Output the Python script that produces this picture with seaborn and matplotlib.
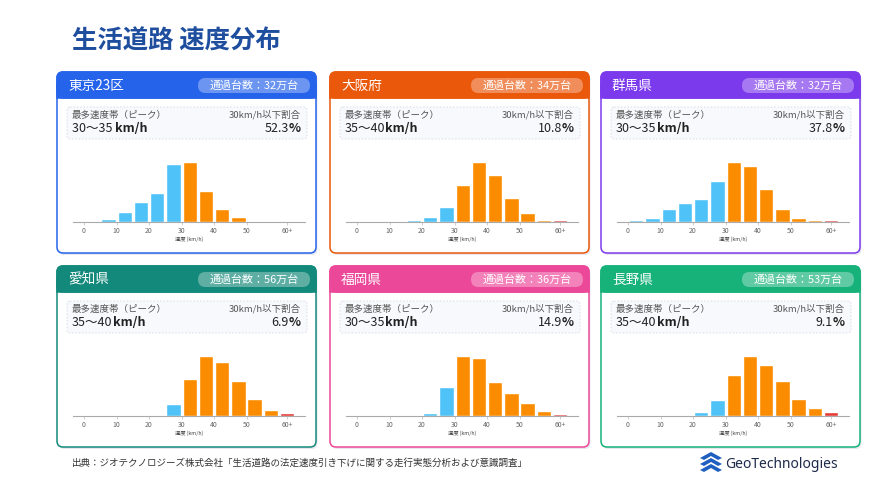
import numpy as np
import pandas as pd
import matplotlib
matplotlib.use("Agg")
import matplotlib.pyplot as plt
from matplotlib.patches import FancyBboxPatch, Rectangle, Polygon
import seaborn as sns

sns.set_theme(style="white")
plt.rcParams['font.family'] = ['Noto Sans CJK JP', 'DejaVu Sans']

# ---- data ----
speed_bins = ["0-5", "5-10", "10-15", "15-20", "20-25", "25-30", "30-35",
              "35-40", "40-45", "45-50", "50-55", "55-60", "60+"]
tick_labels = ["0", "10", "20", "30", "40", "50", "60+"]

regions = ["東京23区", "大阪府", "群馬県", "愛知県", "福岡県", "長野県"]
traffic = ["32万台", "34万台", "32万台", "56万台", "36万台", "53万台"]
peak_bands = ["30～35 ", "35～40", "30～35", "35～40", "30～35", "35～40"]
share_under_30 = ["52.3", "10.8", "37.8", "6.9", "14.9", "9.1"]

tokyo = [0.6, 1.4, 4.3, 8.5, 12.5, 25.0, 25.8, 13.2, 5.7, 2.3, 0.5, 0.3, 0.3]
osaka = [0.1, 0.1, 0.3, 0.8, 2.3, 7.3, 18.6, 29.9, 23.7, 12.1, 4.3, 1.0, 0.8]
gunma = [0.7, 1.6, 4.9, 6.9, 8.6, 15.1, 22.0, 20.5, 12.3, 4.6, 1.5, 0.7, 0.6]
aichi = [0.1, 0.1, 0.2, 0.4, 0.6, 5.5, 16.4, 26.7, 23.9, 15.8, 7.4, 2.7, 1.5]
fukuoka = [0.1, 0.1, 0.1, 0.2, 1.4, 13.0, 26.6, 25.6, 15.3, 10.3, 5.9, 2.1, 0.7]
nagano = [0.1, 0.0, 0.1, 0.5, 1.7, 6.7, 17.3, 25.5, 21.7, 14.7, 7.2, 3.5, 1.7]
shares = [tokyo, osaka, gunma, aichi, fukuoka, nagano]

# ---- styling ----
header_colors = ["#2563EB", "#EA580C", "#7C3AED", "#12897A", "#EC4899", "#16B27A"]
BLUE, ORANGE, RED = "#4FC3F7", "#FB8C00", "#E53935"
bin_colors = [BLUE] * 6 + [ORANGE] * 6 + [RED]

FW, FH = 891, 491
fig = plt.figure(figsize=(FW / 100, FH / 100), dpi=100)
fig.patch.set_facecolor("white")
bg = fig.add_axes([0, 0, 1, 1])
bg.set_xlim(0, FW)
bg.set_ylim(FH, 0)
bg.axis("off")

bg.text(72, 41, "生活道路 速度分布", fontsize=18.3, fontweight="bold",
        color="#1F4E9F", va="center", ha="left")

renderer = fig.canvas.get_renderer()
inv = bg.transData.inverted()


def right_edge(t):
    bb = t.get_window_extent(renderer=renderer)
    return inv.transform((bb.x1, bb.y0))[0]


def left_edge(t):
    bb = t.get_window_extent(renderer=renderer)
    return inv.transform((bb.x0, bb.y0))[0]


card_lefts = [57, 330, 601]
card_tops = [72, 266]
CW, CH = 259, 181

for i, region in enumerate(regions):
    L = card_lefts[i % 3]
    T = card_tops[i // 3]
    col = header_colors[i]

    # shadow + card
    bg.add_patch(FancyBboxPatch((L + 1.5, T + 2), CW, CH,
                                boxstyle="round,pad=0,rounding_size=6",
                                fc="#e6e8ee", ec="none", zorder=1))
    bg.add_patch(FancyBboxPatch((L, T), CW, CH,
                                boxstyle="round,pad=0,rounding_size=6",
                                fc="white", ec=col, lw=1.1, zorder=2))
    # header band
    bg.add_patch(FancyBboxPatch((L, T), CW, 26,
                                boxstyle="round,pad=0,rounding_size=6",
                                fc=col, ec=col, lw=1.1, zorder=3))
    bg.add_patch(Rectangle((L, T + 12), CW, 14, fc=col, ec=col, lw=1.1, zorder=3))
    bg.text(L + 11, T + 13.5, region, fontsize=9.8, color="white",
            va="center", ha="left", zorder=5)
    bg.add_patch(FancyBboxPatch((L + 141, T + 6), 112, 15,
                                boxstyle="round,pad=0,rounding_size=7.5",
                                fc="white", alpha=0.32, ec="none", zorder=4))
    bg.text(L + 197, T + 13.5, "通過台数：" + traffic[i], fontsize=7.9,
            color="white", va="center", ha="center", zorder=5)

    # info box
    bg.add_patch(FancyBboxPatch((L + 10, T + 35), 240, 32,
                                boxstyle="round,pad=0,rounding_size=3",
                                fc="#f7f9fc", ec="#d5dbe5", lw=0.6,
                                ls=(0, (2, 2)), zorder=3))
    bg.text(L + 15, T + 43, "最多速度帯（ピーク）", fontsize=6.8, color="#555555",
            va="center", ha="left", zorder=5)
    bg.text(L + 244, T + 43, "30km/h以下割合", fontsize=6.8, color="#555555",
            va="center", ha="right", zorder=5)
    t1 = bg.text(L + 15, T + 56, peak_bands[i], fontsize=9, color="#222222",
                 va="center", ha="left", zorder=5)
    bg.text(right_edge(t1), T + 56, "km/h", fontsize=9, fontweight="bold",
            color="#222222", va="center", ha="left", zorder=5)
    t2 = bg.text(L + 244, T + 56, "%", fontsize=9, fontweight="bold",
                 color="#222222", va="center", ha="right", zorder=5)
    bg.text(left_edge(t2), T + 56, share_under_30[i], fontsize=9,
            color="#222222", va="center", ha="right", zorder=5)

    # histogram
    ax = fig.add_axes([(L + 16) / FW, 1 - (T + 150) / FH, 232 / FW, 63 / FH])
    df = pd.DataFrame({"bin": speed_bins, "share": shares[i]})
    sns.barplot(data=df, x="bin", y="share", hue="bin", palette=bin_colors,
                width=0.88, saturation=1, legend=False, ax=ax)
    ax.set_ylim(0, max(shares[i]) / 0.95)
    ax.set_xlim(-1.18, 13.1)
    ax.set_xticks([-0.5, 1.5, 3.5, 5.5, 7.5, 9.5, 12])
    ax.set_xticklabels(tick_labels)
    ax.tick_params(axis="x", bottom=True, length=2, width=0.5, color="#bbbbbb",
                   labelsize=5, labelcolor="#666666", pad=1.5)
    ax.set_yticks([])
    ax.set_ylabel("")
    ax.set_xlabel("速度 (km/h)", fontsize=3.8, color="#444444", labelpad=1.5)
    for s in ["top", "right", "left"]:
        ax.spines[s].set_visible(False)
    ax.spines["bottom"].set_color("#aaaaaa")
    ax.spines["bottom"].set_linewidth(0.8)
    ax.patch.set_alpha(0)

# footer
bg.text(72, 463, "出典：ジオテクノロジーズ株式会社「生活道路の法定速度引き下げに関する走行実態分析および意識調査」",
        fontsize=6.85, color="#333333", va="center", ha="left")

# logo
logo_blue = "#1F5FBF"
for dy in (0, 6, 12):
    bg.add_patch(Polygon([(700, 458 + dy), (711, 452 + dy), (722, 458 + dy),
                          (718, 460 + dy), (711, 456 + dy), (704, 460 + dy)],
                         closed=True, fc=logo_blue, ec="none"))
bg.text(725, 464, "GeoTechnologies", fontsize=10, color="#1E2A4A",
        va="center", ha="left", family=["Noto Sans", "DejaVu Sans"])

fig.savefig("out.png", dpi=100, facecolor="white")
